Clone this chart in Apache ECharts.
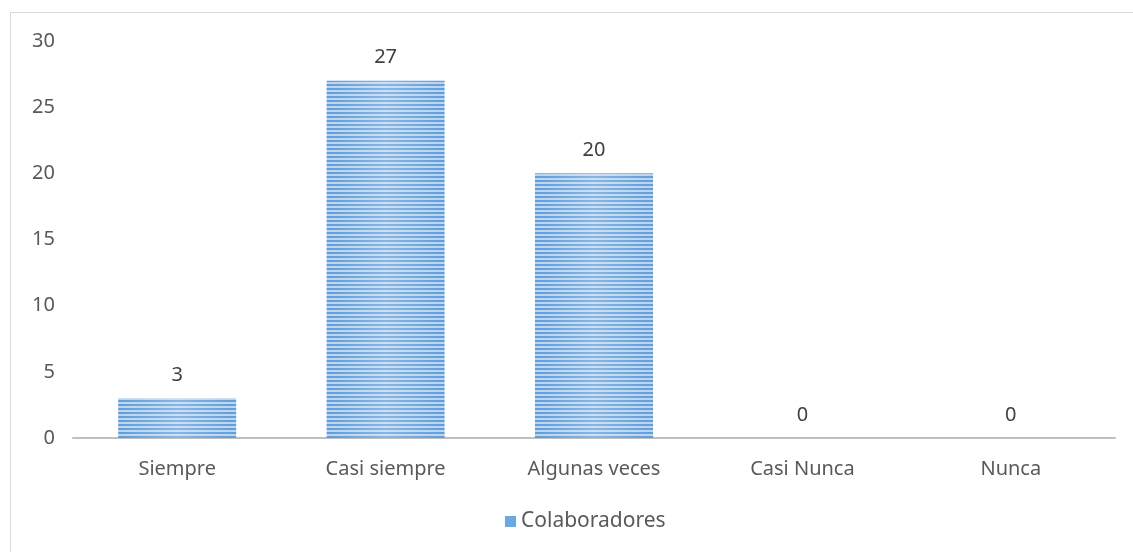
<!DOCTYPE html>
<html>
<head>
<meta charset="utf-8">
<script src="https://cdn.jsdelivr.net/npm/echarts@6/dist/echarts.min.js"></script>
<style>
  html, body { margin: 0; padding: 0; background: #fff; }
  #chart { width: 1133px; height: 552px; }
</style>
</head>
<body>
<div id="chart"></div>
<script>
  // datos
  var categories = ['Siempre', 'Casi siempre', 'Algunas veces', 'Casi Nunca', 'Nunca'];
  var colaboradores = [3, 27, 20, 0, 0];
  var yTicks = { min: 0, max: 30, interval: 5 };

  // rayas horizontales del relleno
  var stripe = document.createElement('canvas');
  stripe.width = 4;
  stripe.height = 4;
  var ctx = stripe.getContext('2d');
  ctx.fillStyle = '#b9d5f0';
  ctx.fillRect(0, 0, 4, 4);
  ctx.fillStyle = '#5f9ddb';
  ctx.fillRect(0, 0, 4, 2);

  var font = 'Noto Sans';
  var option = {
    animation: false,
    graphic: [
      {
        type: 'rect',
        shape: { x: 10.5, y: 12.5, width: 1140, height: 560 },
        style: { fill: 'none', stroke: '#d9d9d9', lineWidth: 1 },
        z: -1
      }
    ],
    grid: { left: 73, right: 18, top: 41, bottom: 114 },
    legend: {
      data: ['Colaboradores'],
      bottom: 15,
      left: 500,
      itemWidth: 11,
      itemHeight: 11,
      itemGap: 4,
      icon: 'rect',
      itemStyle: { color: '#6ea7e0' },
      textStyle: { color: '#595959', fontSize: 21, fontFamily: font }
    },
    xAxis: {
      type: 'category',
      data: categories,
      axisLine: { lineStyle: { color: '#bfbfbf', width: 2 } },
      axisTick: { show: false },
      axisLabel: { color: '#595959', fontSize: 20, fontFamily: font, margin: 21 }
    },
    yAxis: {
      type: 'value',
      min: yTicks.min,
      max: yTicks.max,
      interval: yTicks.interval,
      axisLine: { show: false },
      axisTick: { show: false },
      splitLine: { show: false },
      axisLabel: { color: '#595959', fontSize: 20, fontFamily: font, margin: 18 }
    },
    series: [
      {
        name: 'Colaboradores',
        type: 'bar',
        data: colaboradores,
        barWidth: '56.6%',
        itemStyle: {
          color: { image: stripe, repeat: 'repeat' }
        },
        label: {
          show: true,
          position: 'top',
          distance: 13,
          color: '#404040',
          fontSize: 20,
          fontFamily: font
        }
      },
      {
        // brillo central de las barras
        name: 'brillo',
        type: 'bar',
        data: colaboradores,
        barWidth: '56.6%',
        barGap: '-100%',
        silent: true,
        itemStyle: {
          color: {
            type: 'linear', x: 0, y: 0, x2: 1, y2: 0,
            colorStops: [
              { offset: 0, color: 'rgba(255,255,255,0)' },
              { offset: 0.5, color: 'rgba(255,255,255,0.25)' },
              { offset: 1, color: 'rgba(255,255,255,0)' }
            ]
          }
        }
      }
    ]
  };

  var chart = echarts.init(document.getElementById('chart'));
  chart.setOption(option);
</script>
</body>
</html>
